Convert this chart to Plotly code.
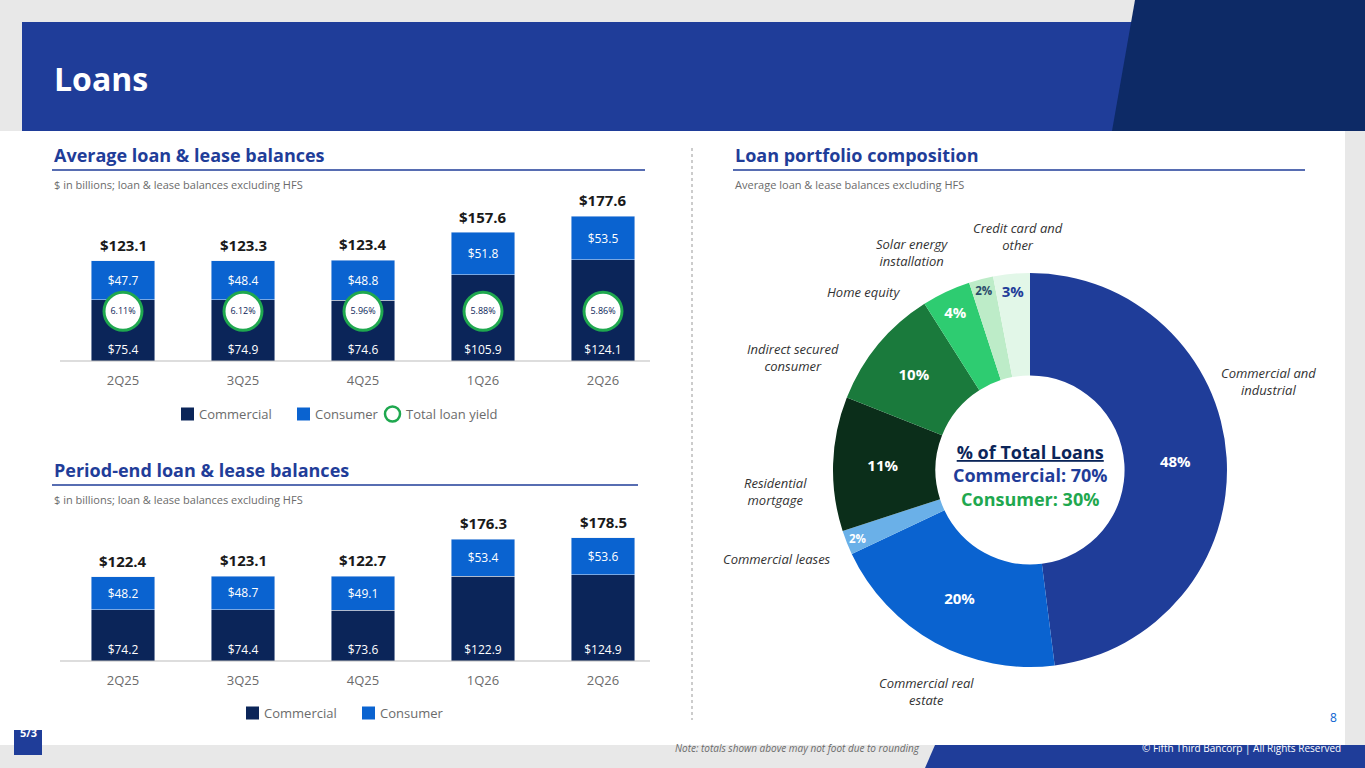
import plotly.graph_objects as go

quarters = ["2Q25", "3Q25", "4Q25", "1Q26", "2Q26"]
avg_commercial = [75.4, 74.9, 74.6, 105.9, 124.1]
avg_consumer = [47.7, 48.4, 48.8, 51.8, 53.5]
avg_total = [123.1, 123.3, 123.4, 157.6, 177.6]
avg_yield = ["6.11%", "6.12%", "5.96%", "5.88%", "5.86%"]
pe_commercial = [74.2, 74.4, 73.6, 122.9, 124.9]
pe_consumer = [48.2, 48.7, 49.1, 53.4, 53.6]
pe_total = [122.4, 123.1, 122.7, 176.3, 178.5]
pie_labels = ["Commercial and industrial", "Commercial real estate", "Commercial leases",
              "Residential mortgage", "Indirect secured consumer", "Home equity",
              "Solar energy installation", "Credit card and other"]
pie_values = [48, 20, 2, 11, 10, 4, 2, 3]

W, H = 1365, 768
NAVY = "#0b2559"; BLUE = "#0a63d0"; HDR = "#1f3d99"; GREEN = "#1fa84f"; GRAY = "#6b6b6b"
FONT = "Open Sans"

def px(x): return x / W
def py(y): return 1 - y / H

fig = go.Figure()
shapes = []
ann = []

shapes.append(dict(type="rect", xref="paper", yref="paper", x0=0, x1=1, y0=0, y1=1, fillcolor="#e8e8e8", line_width=0, layer="below"))
shapes.append(dict(type="rect", xref="paper", yref="paper", x0=0, x1=px(1345), y0=py(745), y1=py(131), fillcolor="white", line_width=0, layer="below"))
shapes.append(dict(type="rect", xref="paper", yref="paper", x0=px(22), x1=px(1345), y0=py(131), y1=py(22), fillcolor=HDR, line_width=0, layer="below"))
shapes.append(dict(type="path", xref="paper", yref="paper",
                   path=f"M {px(1112)},{py(131)} L {px(1135)},{py(0)} L 1,{py(0)} L 1,{py(131)} Z",
                   fillcolor="#0d2a66", line_width=0, layer="below"))
shapes.append(dict(type="path", xref="paper", yref="paper",
                   path=f"M {px(925)},0 L {px(935)},{py(745)} L 1,{py(745)} L 1,0 Z",
                   fillcolor=HDR, line_width=0, layer="below"))
ann.append(dict(x=px(52), y=py(78), xref="paper", yref="paper", text="<b>Loans</b>", showarrow=False,
                xanchor="left", yanchor="middle", font=dict(family=FONT, size=32, color="white")))
ann.append(dict(x=px(922), y=py(757), xref="paper", yref="paper", text="<i>Note: totals shown above may not foot due to rounding</i>",
                showarrow=False, xanchor="right", font=dict(family=FONT, size=10, color=GRAY)))
ann.append(dict(x=px(1343), y=py(757), xref="paper", yref="paper", text="© Fifth Third Bancorp | All Rights Reserved",
                showarrow=False, xanchor="right", font=dict(family=FONT, size=10, color="white")))
ann.append(dict(x=px(1333), y=py(728), xref="paper", yref="paper", text="8", showarrow=False, xanchor="center",
                font=dict(family=FONT, size=12, color=BLUE)))
shapes.append(dict(type="rect", xref="paper", yref="paper", x0=px(14), x1=px(42), y0=py(755), y1=py(730),
                   fillcolor=HDR, line_width=0))
ann.append(dict(x=px(28), y=py(742), xref="paper", yref="paper", text="<b>5/3</b>", showarrow=False, xanchor="center",
                font=dict(family=FONT, size=11, color="white")))

def heading(x, y, x1, title, sub):
    ann.append(dict(x=px(x), y=py(y), xref="paper", yref="paper", text=f"<b>{title}</b>", showarrow=False,
                    xanchor="left", yanchor="middle", font=dict(family=FONT, size=18, color=HDR)))
    shapes.append(dict(type="line", xref="paper", yref="paper", x0=px(x), x1=px(x1), y0=py(y + 15), y1=py(y + 15),
                       line=dict(color=HDR, width=1.5)))
    ann.append(dict(x=px(x), y=py(y + 29), xref="paper", yref="paper", text=sub, showarrow=False,
                    xanchor="left", yanchor="middle", font=dict(family=FONT, size=11, color=GRAY)))
heading(52, 155, 645, "Average loan & lease balances", "$ in billions; loan & lease balances excluding HFS")
heading(52, 470, 638, "Period-end loan & lease balances", "$ in billions; loan & lease balances excluding HFS")
heading(733, 155, 1305, "Loan portfolio composition", "Average loan & lease balances excluding HFS")
shapes.append(dict(type="line", xref="paper", yref="paper", x0=px(692), x1=px(692), y0=py(148), y1=py(720),
                   line=dict(color="#999999", width=1, dash="dot")))

for xa, ya, com, con, tot in [("x", "y", avg_commercial, avg_consumer, avg_total),
                               ("x2", "y2", pe_commercial, pe_consumer, pe_total)]:
    fig.add_trace(go.Bar(x=quarters, y=com, marker_color=NAVY, width=0.53, xaxis=xa, yaxis=ya,
                         text=[f"${v:.1f}" for v in com], textposition="inside", insidetextanchor="start",
                         textfont=dict(family=FONT, size=12, color="white"), showlegend=False, hoverinfo="skip"))
    fig.add_trace(go.Bar(x=quarters, y=con, marker_color=BLUE, width=0.53, xaxis=xa, yaxis=ya,
                         text=[f"${v:.1f}" for v in con], textposition="inside", insidetextanchor="middle",
                         textfont=dict(family=FONT, size=12, color="white"), showlegend=False, hoverinfo="skip"))
    for q, t in zip(quarters, tot):
        ann.append(dict(x=q, y=t, xref=xa, yref=ya, text=f"<b>${t:.1f}</b>", showarrow=False, yanchor="bottom", yshift=4,
                        xanchor="center", font=dict(family=FONT, size=15, color="#1a1a1a")))

fig.add_trace(go.Scatter(x=quarters, y=[61] * len(quarters), mode="markers+text",
                         marker=dict(size=38, color="white", line=dict(color=GREEN, width=3)),
                         text=avg_yield, textfont=dict(family=FONT, size=9, color=NAVY),
                         xaxis="x", yaxis="y", showlegend=False, hoverinfo="skip"))

axfont = dict(family=FONT, size=13, color=GRAY)
fig.update_layout(
    xaxis=dict(domain=[px(63), px(663)], range=[-0.5, 4.5], showgrid=False, zeroline=False, showline=False,
               tickfont=axfont, ticks="", ticklabelstandoff=10),
    yaxis=dict(domain=[py(361), py(198)], range=[0, 200], visible=False),
    xaxis2=dict(domain=[px(63), px(663)], range=[-0.5, 4.5], showgrid=False, zeroline=False, showline=False,
                tickfont=axfont, ticks="", ticklabelstandoff=10, anchor="y2"),
    yaxis2=dict(domain=[py(661), py(523)], range=[0, 200], visible=False, anchor="x2"),
    barmode="stack",
)
shapes.append(dict(type="line", xref="paper", yref="paper", x0=px(60), x1=px(650), y0=py(361), y1=py(361), line=dict(color="#bbbbbb", width=1)))
shapes.append(dict(type="line", xref="paper", yref="paper", x0=px(60), x1=px(650), y0=py(661), y1=py(661), line=dict(color="#bbbbbb", width=1)))

def sq(x, y, color):
    shapes.append(dict(type="rect", xref="paper", yref="paper", x0=px(x), x1=px(x + 13), y0=py(y + 6.5), y1=py(y - 6.5),
                       fillcolor=color, line_width=0))
def lt(x, y, t):
    ann.append(dict(x=px(x), y=py(y), xref="paper", yref="paper", text=t, showarrow=False, xanchor="left", yanchor="middle",
                    font=dict(family=FONT, size=13, color=GRAY)))
sq(181, 414, NAVY); lt(197, 414, "Commercial")
sq(297, 414, BLUE); lt(313, 414, "Consumer")
shapes.append(dict(type="circle", xref="paper", yref="paper", x0=px(385), x1=px(400), y0=py(421.5), y1=py(406.5),
                   fillcolor="white", line=dict(color=GREEN, width=2.5)))
lt(404, 414, "Total loan yield")
sq(246, 713, NAVY); lt(262, 713, "Commercial")
sq(362, 713, BLUE); lt(378, 713, "Consumer")

pie_colors = ["#1f3d99", "#0a63d0", "#6ab0e8", "#0b2e1a", "#1a7a3c", "#2ecc71", "#bdecc8", "#e2f7e8"]
txtcol = ["white"] * 6 + ["#2a4a6a", "#1f3d99"]
fig.add_trace(go.Pie(labels=pie_labels, values=pie_values, sort=False, direction="clockwise", rotation=0,
                     hole=0.48, marker=dict(colors=pie_colors, line=dict(color="white", width=0)),
                     texttemplate="<b>%{value}%</b>", textinfo="text", textposition="inside",
                     insidetextorientation="horizontal",
                     textfont=dict(family=FONT, size=15, color=txtcol),
                     domain=dict(x=[px(833), px(1227)], y=[py(667), py(273)]), showlegend=False, hoverinfo="skip"))
ann.append(dict(x=px(1030), y=py(475), xref="paper", yref="paper", showarrow=False, xanchor="center", yanchor="middle",
                text="<b><u>% of Total Loans</u></b><br><b><span style='color:#1f3d99'>Commercial: 70%</span></b><br><b><span style='color:#1fa84f'>Consumer: 30%</span></b>",
                font=dict(family=FONT, size=18, color=NAVY)))
def plab(x, y, t):
    ann.append(dict(x=px(x), y=py(y), xref="paper", yref="paper", text=f"<i>{t}</i>", showarrow=False, xanchor="center",
                    yanchor="middle", font=dict(family=FONT, size=13, color="#333333")))
plab(1268, 382, "Commercial and<br>industrial")
plab(926, 691, "Commercial real<br>estate")
plab(777, 559, "Commercial leases")
plab(775, 491, "Residential<br>mortgage")
plab(793, 357, "Indirect secured<br>consumer")
plab(863, 292, "Home equity")
plab(912, 252, "Solar energy<br>installation")
plab(1018, 236, "Credit card and<br>other")

fig.update_layout(width=W, height=H, margin=dict(l=0, r=0, t=0, b=0), paper_bgcolor="white", plot_bgcolor="rgba(0,0,0,0)",
                  shapes=shapes, annotations=ann, font=dict(family=FONT))
fig.write_html("out.html", config={"displayModeBar": False},
               post_script="document.body.style.margin='0';document.body.style.overflow='hidden';")
